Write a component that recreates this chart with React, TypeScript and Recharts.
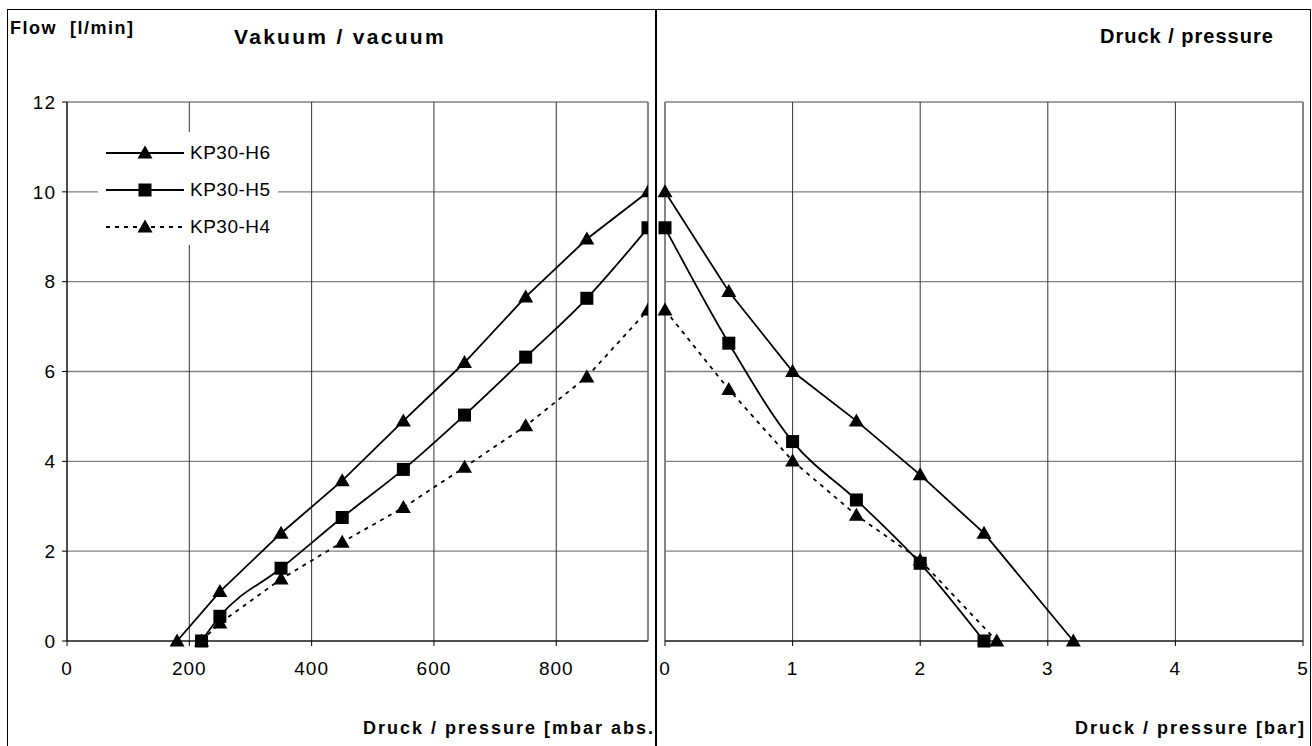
import React from "react";
import { LineChart, Line, XAxis, YAxis, CartesianGrid, ReferenceLine, Legend } from "recharts";

const FONT = "'Liberation Sans', Arial, sans-serif";

// Vakuum / vacuum (x: mbar abs., y: flow l/min)
const vacTicksX = [0, 200, 400, 600, 800];
const vacH6X = [180, 250, 350, 450, 550, 650, 750, 850, 950];
const vacH6Y = [0, 1.1, 2.4, 3.57, 4.9, 6.2, 7.66, 8.95, 10];
const vacH5X = [220, 250, 350, 450, 550, 650, 750, 850, 950];
const vacH5Y = [0, 0.55, 1.62, 2.75, 3.82, 5.03, 6.32, 7.63, 9.2];
const vacH4X = [220, 250, 350, 450, 550, 650, 750, 850, 950];
const vacH4Y = [0, 0.4, 1.38, 2.2, 2.97, 3.87, 4.79, 5.88, 7.37];

// Druck / pressure (x: bar)
const prTicksX = [0, 1, 2, 3, 4, 5];
const prH6X = [0, 0.5, 1, 1.5, 2, 2.5, 3.2];
const prH6Y = [10, 7.78, 6.0, 4.9, 3.7, 2.4, 0];
const prH5X = [0, 0.5, 1, 1.5, 2, 2.5];
const prH5Y = [9.2, 6.63, 4.44, 3.14, 1.73, 0];
const prH4X = [0, 0.5, 1, 1.5, 2, 2.6];
const prH4Y = [7.37, 5.6, 4.01, 2.8, 1.8, 0];

const flowTicks = [0, 2, 4, 6, 8, 10, 12];
const seriesNames = ["KP30-H6", "KP30-H5", "KP30-H4"];

const toPoints = (xs: number[], ys: number[]) => xs.map((x, i) => ({ x, y: ys[i] }));

const Tri = (p: any) => {
  const { cx, cy } = p;
  if (cx == null || cy == null) return <g key={p.index} />;
  return <path key={p.index} d={`M${cx},${cy - 7.5} L${cx + 7.5},${cy + 5.5} L${cx - 7.5},${cy + 5.5} Z`} fill="#000" />;
};

const Sq = (p: any) => {
  const { cx, cy } = p;
  if (cx == null || cy == null) return <g key={p.index} />;
  return <rect key={p.index} x={cx - 6.5} y={cy - 6.5} width={13} height={13} fill="#000" />;
};

const XTick = (p: any) => (
  <text x={p.x} y={p.y} dy="0.71em" textAnchor="middle" fontSize={19} fill="#000" fontFamily={FONT} letterSpacing={1}>
    {p.payload.value}
  </text>
);

const YTick = (p: any) => (
  <text x={p.x} y={p.y} dy="0.355em" textAnchor="end" fontSize={19} fill="#000" fontFamily={FONT} letterSpacing={1}>
    {p.payload.value}
  </text>
);

const legendRows = [
  { name: seriesNames[0], marker: "tri", dash: undefined },
  { name: seriesNames[1], marker: "sq", dash: undefined },
  { name: seriesNames[2], marker: "tri", dash: "4 5" },
];

const renderLegend = () => (
  <div style={{ background: "#fff", width: 180, height: 113, position: "relative", fontFamily: FONT }}>
    {legendRows.map((r, i) => (
      <div key={r.name} style={{ position: "absolute", left: 0, top: 8 + i * 37, height: 26, display: "flex", alignItems: "center" }}>
        <svg width={92} height={26}>
          <line x1={8} x2={86} y1={13} y2={13} stroke="#000" strokeWidth={1.8} strokeDasharray={r.dash} />
          {r.marker === "tri" ? <Tri cx={47} cy={13} /> : <Sq cx={47} cy={13} />}
        </svg>
        <span style={{ fontSize: 19, letterSpacing: 0.5 }}>{r.name}</span>
      </div>
    ))}
  </div>
);

const lineCommon = {
  dataKey: "y",
  stroke: "#000",
  strokeWidth: 1.8,
  isAnimationActive: false,
  activeDot: false,
  legendType: "none" as const,
};

const text = (s: React.CSSProperties): React.CSSProperties => ({
  position: "absolute",
  fontFamily: FONT,
  fontWeight: "bold",
  color: "#000",
  whiteSpace: "pre",
  ...s,
});

export default function App() {
  return (
    <div style={{ position: "absolute", left: 0, top: 0, width: 1312, height: 746, background: "#fff", overflow: "hidden" }}>
      {/* frame and divider */}
      <div style={{ position: "absolute", left: 7, top: 9, width: 1304, height: 800, border: "1.5px solid #000", boxSizing: "border-box" }} />
      <div style={{ position: "absolute", left: 655, top: 9, width: 1.5, height: 760, background: "#000" }} />

      {/* Vakuum / vacuum */}
      <div style={{ position: "absolute", left: 0, top: 0 }}>
        <LineChart width={656} height={746} margin={{ top: 102, right: 8, bottom: 75, left: 7 }}>
          <CartesianGrid vertical={false} stroke="#808080" strokeWidth={1.3} />
          <CartesianGrid horizontal={false} stroke="#333" strokeWidth={1} />
          <ReferenceLine x={950} stroke="#808080" strokeWidth={1.5} />
          <XAxis
            type="number"
            dataKey="x"
            domain={[0, 950]}
            ticks={vacTicksX}
            allowDataOverflow
            height={30}
            tickSize={5}
            tickMargin={16}
            stroke="#000"
            tick={<XTick />}
          />
          <YAxis
            type="number"
            domain={[0, 12]}
            ticks={flowTicks}
            width={60}
            tickSize={5}
            tickMargin={6}
            stroke="#000"
            tick={<YTick />}
          />
          <Line {...lineCommon} type="linear" data={toPoints(vacH4X, vacH4Y)} strokeDasharray="4 5" dot={Tri} name={seriesNames[2]} />
          <Line {...lineCommon} type="monotone" data={toPoints(vacH5X, vacH5Y)} dot={Sq} name={seriesNames[1]} />
          <Line {...lineCommon} type="linear" data={toPoints(vacH6X, vacH6Y)} dot={Tri} name={seriesNames[0]} />
          <Legend
            layout="horizontal"
            verticalAlign="middle"
            align="center"
            content={renderLegend}
            wrapperStyle={{ left: 98, top: 132, width: 180, height: 113 }}
          />
        </LineChart>
      </div>

      {/* Druck / pressure */}
      <div style={{ position: "absolute", left: 656, top: 0 }}>
        <LineChart width={656} height={746} margin={{ top: 102, right: 9, bottom: 75, left: 9 }}>
          <CartesianGrid vertical={false} stroke="#808080" strokeWidth={1.3} />
          <CartesianGrid horizontal={false} stroke="#333" strokeWidth={1} />
          <ReferenceLine x={0} stroke="#808080" strokeWidth={1.5} />
          <ReferenceLine x={5} stroke="#808080" strokeWidth={1.5} />
          <XAxis
            type="number"
            dataKey="x"
            domain={[0, 5]}
            ticks={prTicksX}
            height={30}
            tickSize={5}
            tickMargin={16}
            stroke="#000"
            tick={<XTick />}
          />
          <YAxis type="number" domain={[0, 12]} ticks={flowTicks} hide />
          <Line {...lineCommon} type="linear" data={toPoints(prH4X, prH4Y)} strokeDasharray="4 5" dot={Tri} name={seriesNames[2]} />
          <Line {...lineCommon} type="monotone" data={toPoints(prH5X, prH5Y)} dot={Sq} name={seriesNames[1]} />
          <Line {...lineCommon} type="linear" data={toPoints(prH6X, prH6Y)} dot={Tri} name={seriesNames[0]} />
        </LineChart>
      </div>

      {/* titles */}
      <div style={text({ left: 10, top: 19, fontSize: 18, lineHeight: "18px", letterSpacing: 1.5 })}>{"Flow  [l/min]"}</div>
      <div style={text({ left: 234, top: 26, fontSize: 21, lineHeight: "21px", letterSpacing: 2.3 })}>Vakuum / vacuum</div>
      <div style={text({ left: 1100, top: 26, fontSize: 20, lineHeight: "20px", letterSpacing: 1 })}>Druck / pressure</div>
      <div style={text({ right: 1312 - 655, top: 719, fontSize: 18, lineHeight: "18px", letterSpacing: 2 })}>Druck / pressure [mbar abs.</div>
      <div style={text({ right: 1312 - 1306, top: 719, fontSize: 18, lineHeight: "18px", letterSpacing: 2 })}>Druck / pressure [bar]</div>
    </div>
  );
}
